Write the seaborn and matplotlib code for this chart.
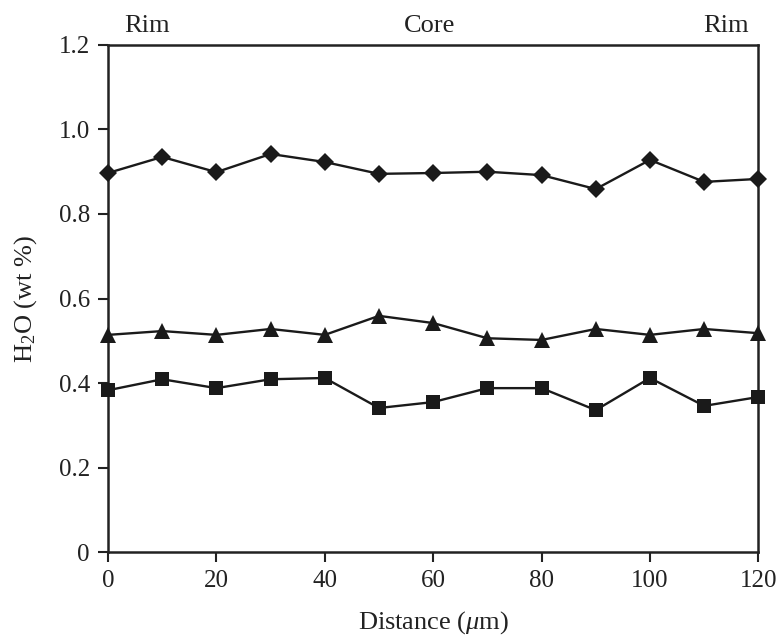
import matplotlib
matplotlib.use("Agg")
import matplotlib.pyplot as plt
import seaborn as sns
import pandas as pd

distance = [0, 10, 20, 30, 40, 50, 60, 70, 80, 90, 100, 110, 120]
diamond_vals = [0.897, 0.935, 0.899, 0.942, 0.923, 0.895, 0.897, 0.900, 0.892, 0.859, 0.928, 0.876, 0.883]
triangle_vals = [0.514, 0.523, 0.514, 0.528, 0.514, 0.559, 0.542, 0.506, 0.502, 0.528, 0.514, 0.528, 0.518]
square_vals = [0.383, 0.409, 0.388, 0.409, 0.412, 0.341, 0.355, 0.388, 0.388, 0.336, 0.412, 0.346, 0.367]
series_names = ["diamond", "triangle", "square"]
y_ticks = [0, 0.2, 0.4, 0.6, 0.8, 1.0, 1.2]
y_ticklabels = ["0", "0.2", "0.4", "0.6", "0.8", "1.0", "1.2"]
x_ticks = [0, 20, 40, 60, 80, 100, 120]
zone_labels = ["Rim", "Core", "Rim"]

sns.set_theme(style="white")
plt.rcParams["font.family"] = ["Liberation Serif", "DejaVu Serif"]
plt.rcParams["mathtext.fontset"] = "custom"
plt.rcParams["mathtext.rm"] = "Liberation Serif"
plt.rcParams["mathtext.it"] = "Liberation Serif:italic"

df = pd.concat([
    pd.DataFrame({"Distance": distance, "H2O": vals, "series": name})
    for name, vals in zip(series_names, [diamond_vals, triangle_vals, square_vals])
])

fig = plt.figure(figsize=(7.77, 6.42), dpi=100)
ax = fig.add_axes([0.139, 0.140, 0.837, 0.790])

sns.lineplot(data=df, x="Distance", y="H2O", style="series",
             markers={"diamond": "D", "triangle": "^", "square": "s"},
             dashes=False, color="#1a1a1a", linewidth=1.7, markersize=10,
             markeredgewidth=0, legend=False, ax=ax, clip_on=False, zorder=3)

for line in ax.get_lines():
    if line.get_marker() == "D":
        line.set_markersize(9)
    elif line.get_marker() == "^":
        line.set_markersize(11)

ax.set_xlim(0, 120)
ax.set_ylim(0, 1.2)
ax.set_xticks(x_ticks)
ax.set_yticks(y_ticks)
ax.set_yticklabels(y_ticklabels)
ax.tick_params(axis="both", which="both", direction="out", length=7, width=1.5,
               labelsize=18, color="#222222", labelcolor="#222222",
               bottom=True, left=True, top=False, right=False, pad=6)
for sp in ax.spines.values():
    sp.set_visible(True)
    sp.set_linewidth(1.8)
    sp.set_color("#222222")

ax.set_xlabel(r"Distance ($\mathit{\mu}$m)", fontsize=19, color="#222222", labelpad=12)
ax.set_ylabel(r"H$_2$O (wt %)", fontsize=19, color="#222222", labelpad=14)

ax.text(0.025, 1.015, zone_labels[0], transform=ax.transAxes, ha="left", va="bottom",
        fontsize=19, color="#222222")
ax.text(0.495, 1.015, zone_labels[1], transform=ax.transAxes, ha="center", va="bottom",
        fontsize=19, color="#222222")
ax.text(0.985, 1.015, zone_labels[2], transform=ax.transAxes, ha="right", va="bottom",
        fontsize=19, color="#222222")

fig.savefig("out.png", dpi=100, facecolor="white")
